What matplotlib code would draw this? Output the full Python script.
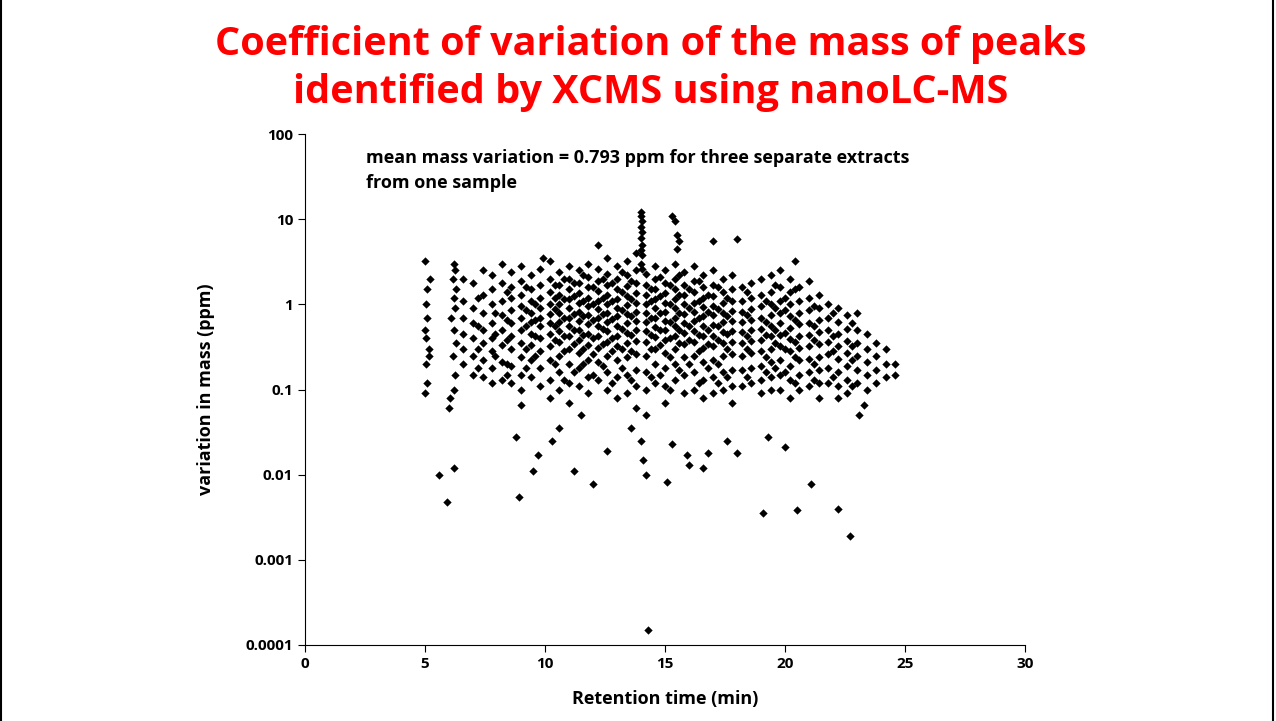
import matplotlib.pyplot as plt
from matplotlib.patches import Rectangle

plt.rcParams['font.family'] = ['Open Sans', 'DejaVu Sans']
plt.rcParams['font.weight'] = 'bold'

# early column near 5 min
early_rt = [5.0, 5.05, 5.1, 5.0, 5.15, 5.05, 5.1, 5.0, 5.2, 5.1, 5.05, 5.15]
early_cv = [3.2, 1.0, 0.7, 0.5, 0.3, 0.2, 0.12, 0.09, 2.0, 1.5, 0.4, 0.25]

# column near 6 min
col6_rt = [6.2, 6.25, 6.15, 6.3, 6.2, 6.25, 6.1, 6.2, 6.3, 6.15, 6.25, 6.2, 6.0, 6.05]
col6_cv = [3.0, 2.5, 2.0, 1.5, 1.2, 0.9, 0.7, 0.5, 0.35, 0.25, 0.15, 0.1, 0.06, 0.08]

# low outliers
low_rt = [5.6, 5.9, 6.2, 8.8, 8.9, 9.0, 9.5, 9.7, 10.3, 10.6, 11.2, 11.5, 12.0, 12.6,
          13.6, 14.0, 14.1, 14.2, 14.3, 15.1, 15.3, 15.9, 16.0, 16.6, 16.8, 17.6,
          18.0, 19.1, 19.3, 20.0, 20.5, 21.1, 22.2, 22.7, 23.1, 23.3]
low_cv = [0.010, 0.0048, 0.012, 0.028, 0.0055, 0.065, 0.011, 0.017, 0.025, 0.035,
          0.011, 0.05, 0.0078, 0.019, 0.035, 0.025, 0.015, 0.0098, 0.00015, 0.0083,
          0.023, 0.017, 0.013, 0.012, 0.018, 0.025, 0.018, 0.0035, 0.028, 0.021,
          0.0038, 0.0078, 0.004, 0.0019, 0.05, 0.065]

# high outliers / spike near 14 min
high_rt = [14.0, 14.0, 14.05, 14.0, 14.05, 14.0, 14.05, 14.0, 14.05, 14.0, 14.05,
           15.3, 15.4, 15.5, 15.6, 15.5, 17.0, 18.0, 12.2, 9.9, 20.4]
high_cv = [12, 11, 9.5, 8, 7, 6, 5, 4.3, 3.8, 3.0, 2.6,
           11, 9.5, 6.5, 5.5, 4.5, 5.5, 5.8, 5.0, 3.5, 3.2]

# main cloud, by retention-time column
cloud_rt = [6.6, 7.0, 7.4, 7.8, 8.2, 8.6, 9.0, 9.4, 9.8, 10.2, 10.6, 11.0, 11.4, 11.8,
            12.2, 12.6, 13.0, 13.4, 13.8, 14.2, 14.6, 15.0, 15.4, 15.8, 16.2, 16.6,
            17.0, 17.4, 17.8, 18.2, 18.6, 19.0, 19.4, 19.8, 20.2, 20.6, 21.0, 21.4,
            21.8, 22.2, 22.6, 23.0, 23.4, 23.8, 24.2, 24.6]
cloud_cv = [
    [2.0, 1.1, 0.7, 0.45, 0.3, 0.2],
    [1.8, 0.9, 0.6, 0.4, 0.25, 0.15],
    [2.5, 1.3, 0.8, 0.5, 0.35, 0.22, 0.14],
    [2.2, 1.5, 1.0, 0.6, 0.4, 0.28, 0.18, 0.12],
    [3.0, 1.8, 1.1, 0.75, 0.5, 0.33, 0.21, 0.13],
    [2.4, 1.6, 1.2, 0.85, 0.6, 0.42, 0.3, 0.19, 0.12],
    [2.8, 1.9, 1.3, 0.95, 0.7, 0.5, 0.35, 0.24, 0.15, 0.1],
    [2.2, 1.5, 1.1, 0.8, 0.62, 0.45, 0.33, 0.22, 0.14],
    [2.6, 1.7, 1.2, 0.9, 0.7, 0.55, 0.4, 0.28, 0.18, 0.11],
    [3.2, 2.0, 1.4, 1.0, 0.78, 0.6, 0.45, 0.32, 0.22, 0.13, 0.08],
    [2.4, 1.7, 1.3, 1.0, 0.8, 0.62, 0.48, 0.36, 0.25, 0.16, 0.1],
    [2.8, 2.0, 1.5, 1.15, 0.9, 0.7, 0.55, 0.42, 0.3, 0.2, 0.12, 0.07],
    [2.5, 1.8, 1.35, 1.05, 0.82, 0.64, 0.5, 0.38, 0.27, 0.18, 0.11],
    [3.0, 2.1, 1.6, 1.2, 0.95, 0.75, 0.58, 0.45, 0.33, 0.22, 0.14, 0.09],
    [2.6, 1.9, 1.45, 1.1, 0.88, 0.7, 0.55, 0.42, 0.31, 0.21, 0.13],
    [3.5, 2.3, 1.7, 1.3, 1.0, 0.8, 0.62, 0.48, 0.36, 0.25, 0.16, 0.1],
    [2.8, 2.0, 1.5, 1.15, 0.9, 0.72, 0.56, 0.43, 0.32, 0.22, 0.14, 0.08],
    [3.2, 2.2, 1.65, 1.25, 0.98, 0.78, 0.6, 0.46, 0.35, 0.24, 0.15, 0.09],
    [4.0, 2.5, 1.8, 1.35, 1.05, 0.82, 0.64, 0.5, 0.37, 0.26, 0.17, 0.11, 0.06],
    [2.3, 1.7, 1.3, 1.0, 0.8, 0.62, 0.48, 0.36, 0.25, 0.16, 0.1, 0.05],
    [2.8, 2.0, 1.5, 1.15, 0.9, 0.7, 0.54, 0.41, 0.3, 0.2, 0.12],
    [2.5, 1.8, 1.35, 1.05, 0.82, 0.64, 0.5, 0.38, 0.27, 0.18, 0.11, 0.07],
    [3.0, 2.0, 1.5, 1.15, 0.9, 0.7, 0.55, 0.42, 0.3, 0.2, 0.13],
    [2.4, 1.7, 1.3, 1.0, 0.78, 0.6, 0.46, 0.34, 0.24, 0.15, 0.09],
    [2.8, 1.9, 1.4, 1.05, 0.82, 0.63, 0.48, 0.36, 0.25, 0.16, 0.1],
    [2.2, 1.6, 1.2, 0.92, 0.72, 0.55, 0.42, 0.31, 0.21, 0.13, 0.08],
    [2.5, 1.7, 1.25, 0.95, 0.74, 0.57, 0.43, 0.32, 0.22, 0.14, 0.09],
    [2.0, 1.4, 1.05, 0.8, 0.62, 0.47, 0.35, 0.25, 0.16, 0.1],
    [2.2, 1.5, 1.1, 0.83, 0.64, 0.48, 0.36, 0.26, 0.17, 0.11, 0.07],
    [1.6, 1.1, 0.82, 0.62, 0.47, 0.35, 0.25, 0.17, 0.11],
    [1.8, 1.2, 0.88, 0.66, 0.5, 0.37, 0.27, 0.18, 0.12],
    [2.0, 1.3, 0.95, 0.7, 0.52, 0.38, 0.28, 0.19, 0.13, 0.09],
    [2.2, 1.4, 1.0, 0.75, 0.56, 0.42, 0.3, 0.21, 0.14, 0.1],
    [2.5, 1.6, 1.1, 0.8, 0.6, 0.44, 0.32, 0.22, 0.15, 0.1],
    [2.0, 1.4, 1.0, 0.72, 0.53, 0.39, 0.28, 0.19, 0.13, 0.08],
    [1.6, 1.1, 0.8, 0.58, 0.42, 0.31, 0.22, 0.15, 0.1],
    [1.9, 1.2, 0.85, 0.6, 0.44, 0.32, 0.23, 0.16, 0.11],
    [1.3, 0.9, 0.65, 0.47, 0.34, 0.24, 0.17, 0.12, 0.08],
    [1.0, 0.7, 0.5, 0.36, 0.26, 0.18, 0.12],
    [0.9, 0.62, 0.45, 0.32, 0.23, 0.16, 0.11, 0.08],
    [0.75, 0.52, 0.37, 0.27, 0.19, 0.13, 0.09],
    [0.8, 0.5, 0.35, 0.25, 0.17, 0.12],
    [0.45, 0.3, 0.21, 0.15, 0.1],
    [0.35, 0.25, 0.17, 0.12],
    [0.3, 0.2, 0.14],
    [0.2, 0.15],
]

# second interleaved set of cloud columns
cloud2_rt = [7.2, 7.9, 8.4, 9.2, 9.6, 10.4, 10.8, 11.2, 11.6, 12.0, 12.4, 12.8, 13.2,
             13.6, 14.4, 14.8, 15.2, 15.6, 16.0, 16.4, 16.8, 17.2, 17.6, 18.4, 19.2,
             19.6, 20.0, 20.4, 21.2, 22.0, 22.8]
cloud2_cv = [
    [1.2, 0.55, 0.3, 0.18],
    [0.8, 0.45, 0.25],
    [1.4, 0.65, 0.38, 0.2, 0.15],
    [1.6, 0.85, 0.55, 0.3, 0.18],
    [1.0, 0.66, 0.42, 0.25],
    [1.7, 1.2, 0.88, 0.55, 0.38, 0.2],
    [2.0, 1.15, 0.7, 0.42, 0.28, 0.13],
    [1.8, 1.25, 0.78, 0.5, 0.34, 0.16],
    [2.2, 1.1, 0.72, 0.44, 0.3, 0.2],
    [1.6, 1.0, 0.65, 0.4, 0.26, 0.15],
    [2.0, 1.2, 0.78, 0.52, 0.34, 0.19],
    [1.8, 1.1, 0.68, 0.4, 0.28, 0.12],
    [2.4, 1.4, 0.85, 0.52, 0.3, 0.18],
    [1.9, 1.15, 0.72, 0.44, 0.28, 0.13],
    [1.5, 1.1, 0.7, 0.44, 0.3, 0.14],
    [2.1, 1.25, 0.8, 0.5, 0.33, 0.15],
    [1.7, 1.0, 0.62, 0.4, 0.24, 0.1],
    [2.2, 1.3, 0.8, 0.5, 0.35, 0.17],
    [1.5, 0.9, 0.56, 0.38, 0.2],
    [1.9, 1.1, 0.7, 0.44, 0.28, 0.12],
    [1.3, 0.82, 0.5, 0.34, 0.18],
    [1.6, 0.88, 0.55, 0.38, 0.2, 0.12],
    [1.2, 0.72, 0.45, 0.3, 0.14],
    [1.4, 0.75, 0.42, 0.3, 0.14],
    [1.1, 0.62, 0.44, 0.24, 0.16],
    [1.7, 0.9, 0.5, 0.35, 0.18],
    [1.2, 0.85, 0.46, 0.3, 0.16],
    [1.5, 0.66, 0.36, 0.24, 0.12],
    [0.95, 0.55, 0.38, 0.2, 0.13],
    [0.8, 0.42, 0.28, 0.14],
    [0.6, 0.32, 0.22, 0.11],
]

fig = plt.figure(figsize=(12.76, 7.21), dpi=100)
fig.patches.append(Rectangle((0.001, -0.01), 0.997, 1.2, transform=fig.transFigure,
                             fill=False, edgecolor='black', linewidth=1.5))
ax = fig.add_axes([305 / 1276, 1 - 645 / 721, 720 / 1276, 511 / 721])

kw = dict(marker='D', s=18, color='black', linewidths=0)
for rt, cvs in zip(cloud_rt, cloud_cv):
    ax.scatter([rt] * len(cvs), cvs, **kw)
for rt, cvs in zip(cloud2_rt, cloud2_cv):
    ax.scatter([rt] * len(cvs), cvs, **kw)
ax.scatter(early_rt, early_cv, **kw)
ax.scatter(col6_rt, col6_cv, **kw)
ax.scatter(low_rt, low_cv, **kw)
ax.scatter(high_rt, high_cv, **kw)

ax.set_yscale('log')
ax.set_xlim(0, 30)
ax.set_ylim(0.0001, 100)
ax.set_xticks(range(0, 31, 5))
ax.set_yticks([0.0001, 0.001, 0.01, 0.1, 1, 10, 100])
ax.set_yticklabels(['0.0001', '0.001', '0.01', '0.1', '1', '10', '100'])
ax.minorticks_off()
ax.tick_params(direction='out', labelsize=11, length=5)
for s in ['top', 'right']:
    ax.spines[s].set_visible(False)
ax.set_xlabel('Retention time (min)', fontsize=13, fontweight='bold', labelpad=14)
ax.set_ylabel('variation in mass (ppm)', fontsize=13, fontweight='bold', labelpad=22)

ax.text(0.085, 0.97, 'mean mass variation = 0.793 ppm for three separate extracts\nfrom one sample',
        transform=ax.transAxes, fontsize=13, fontweight='bold', va='top', linespacing=1.5)

fig.text(0.51, 0.905, 'Coefficient of variation of the mass of peaks\nidentified by XCMS using nanoLC-MS',
         ha='center', va='center', color='#ff0000', fontsize=28.5, fontweight='bold', linespacing=1.3)

fig.savefig('out.png', dpi=100)
